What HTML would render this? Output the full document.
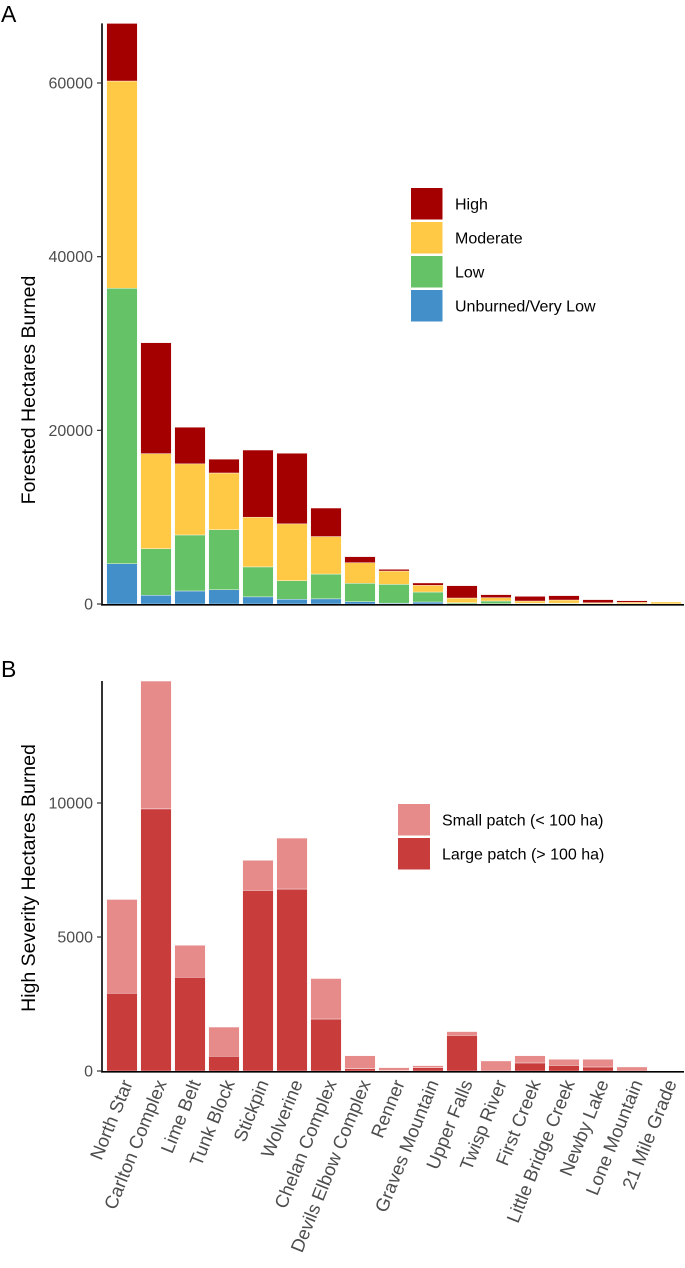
<!DOCTYPE html>
<html><head><meta charset="utf-8"><style>
html,body{margin:0;padding:0;background:#fff;}
svg{display:block;font-family:"Liberation Sans",sans-serif;}
</style></head><body>
<svg id="chart" width="685" height="1268" viewBox="0 0 685 1268" xmlns="http://www.w3.org/2000/svg">
<g id="gA"></g>
<g id="gB"></g>
</svg>
<script>
const fires = ["North Star","Carlton Complex","Lime Belt","Tunk Block","Stickpin","Wolverine","Chelan Complex","Devils Elbow Complex","Renner","Graves Mountain","Upper Falls","Twisp River","First Creek","Little Bridge Creek","Newby Lake","Lone Mountain","21 Mile Grade"];
const unburned = [4640,1000,1500,1640,820,550,590,270,100,230,20,30,20,20,10,10,5];
const low =      [31720,5360,6450,6910,3450,2130,2860,2110,2160,1150,130,315,80,80,40,20,10];
const moderate = [23870,10960,8190,6540,5730,6550,4320,2380,1540,770,540,385,245,360,100,160,230];
const high =     [6630,12770,4220,1590,7730,8130,3280,690,190,270,1420,345,535,500,350,190,40];
const yTicksA = [0,20000,40000,60000];
const largePatch = [2900,9780,3500,550,6740,6790,1940,90,20,125,1330,0,300,210,150,0,0];
const smallPatch = [3500,4770,1190,1090,1120,1900,1510,480,105,75,140,375,270,225,285,150,0];
const yTicksB = [0,5000,10000];

const NS="http://www.w3.org/2000/svg";
function mk(parent,tag,attrs,text){const e=document.createElementNS(NS,tag);for(const k in attrs)e.setAttribute(k,attrs[k]);if(text!==undefined)e.textContent=text;parent.appendChild(e);return e;}
const bandStep=34, bandStart=105, barW=30.6;
function xc(i){return bandStart+bandStep*(i+0.5);}

// Panel A
const gA=document.getElementById('gA');
const baseA=604, kA=521/60000;
function yA(v){return baseA-v*kA;}
const colsA=[["unburned",unburned,"#428fca"],["low",low,"#66c266"],["moderate",moderate,"#ffc845"],["high",high,"#a50000"]];
fires.forEach((f,i)=>{
  let cum=0;
  colsA.forEach(([nm,arr,c])=>{
    const v=arr[i];const y0=yA(cum),y1=yA(cum+v);cum+=v;
    const r=mk(gA,'rect',{x:xc(i)-barW/2,y:y1,width:barW,height:Math.max(0,y0-y1),fill:c,stroke:'#fff','stroke-width':0.4});
    
    
  });
});
let maxA=0;fires.forEach((f,i)=>{maxA=Math.max(maxA,unburned[i]+low[i]+moderate[i]+high[i]);});
let axA=mk(gA,'line',{x1:102,x2:102,y1:yA(maxA),y2:baseA+1,stroke:'#000','stroke-width':1.6});

let bxA=mk(gA,'line',{x1:101,x2:684,y1:baseA+0.8,y2:baseA+0.8,stroke:'#000','stroke-width':1.6});

yTicksA.forEach(t=>{
  const l=mk(gA,'line',{x1:97,x2:102,y1:yA(t),y2:yA(t),stroke:'#333','stroke-width':1.2});
  
  const tx=mk(gA,'text',{x:93,y:yA(t)+5.5,'text-anchor':'end','font-size':16,fill:'#4d4d4d'},String(t));
  
});
let tA=mk(gA,'text',{x:0,y:0,transform:'translate(35,390) rotate(-90)','text-anchor':'middle','font-size':19.5,fill:'#000'},'Forested Hectares Burned');

let lA=mk(gA,'text',{x:1,y:22,'font-size':23,fill:'#000'},'A');

const legA=[["High","#a50000"],["Moderate","#ffc845"],["Low","#66c266"],["Unburned/Very Low","#428fca"]];
legA.forEach(([lab,c],j)=>{
  const y=188+34*j;
  const r=mk(gA,'rect',{x:411,y:y,width:31.5,height:31.5,fill:c});
  
  const t=mk(gA,'text',{x:455,y:y+21.5,'font-size':16,fill:'#000'},lab);
  
});

// Panel B
const gB=document.getElementById('gB');
const baseB=1071, kB=26.8/1000;
function yB(v){return baseB-v*kB;}
fires.forEach((f,i)=>{
  const y0=yB(0),y1=yB(largePatch[i]),y2=yB(largePatch[i]+smallPatch[i]);
  const r1=mk(gB,'rect',{x:xc(i)-barW/2,y:y1,width:barW,height:Math.max(0,y0-y1),fill:'#c83c3c',stroke:'#fff','stroke-width':0.4});
  
  const r2=mk(gB,'rect',{x:xc(i)-barW/2,y:y2,width:barW,height:Math.max(0,y1-y2),fill:'#e68a8a',stroke:'#fff','stroke-width':0.4});
  
  const lb=mk(gB,'text',{x:0,y:0,transform:'translate('+(xc(i)+11)+',1083) rotate(-68)','text-anchor':'end','font-size':18.5,fill:'#4d4d4d'},f);
  
});
let maxB=0;fires.forEach((f,i)=>{maxB=Math.max(maxB,largePatch[i]+smallPatch[i]);});
let axB=mk(gB,'line',{x1:102,x2:102,y1:yB(maxB),y2:baseB+1,stroke:'#000','stroke-width':1.6});

let bxB=mk(gB,'line',{x1:101,x2:684,y1:baseB+0.8,y2:baseB+0.8,stroke:'#000','stroke-width':1.6});

yTicksB.forEach(t=>{
  const l=mk(gB,'line',{x1:97,x2:102,y1:yB(t),y2:yB(t),stroke:'#333','stroke-width':1.2});
  
  const tx=mk(gB,'text',{x:93,y:yB(t)+5.5,'text-anchor':'end','font-size':16,fill:'#4d4d4d'},String(t));
  
});
let tB=mk(gB,'text',{x:0,y:0,transform:'translate(35,878) rotate(-90)','text-anchor':'middle','font-size':19.5,fill:'#000'},'High Severity Hectares Burned');

let lB=mk(gB,'text',{x:1,y:677,'font-size':23,fill:'#000'},'B');

const legB=[["Small patch (< 100 ha)","#e68a8a"],["Large patch (> 100 ha)","#c83c3c"]];
legB.forEach(([lab,c],j)=>{
  const y=804+34*j;
  const r=mk(gB,'rect',{x:398,y:y,width:32,height:31.5,fill:c});
  
  const t=mk(gB,'text',{x:442,y:y+21.5,'font-size':16,fill:'#000'},lab);
  
});
</script>
</body></html>
